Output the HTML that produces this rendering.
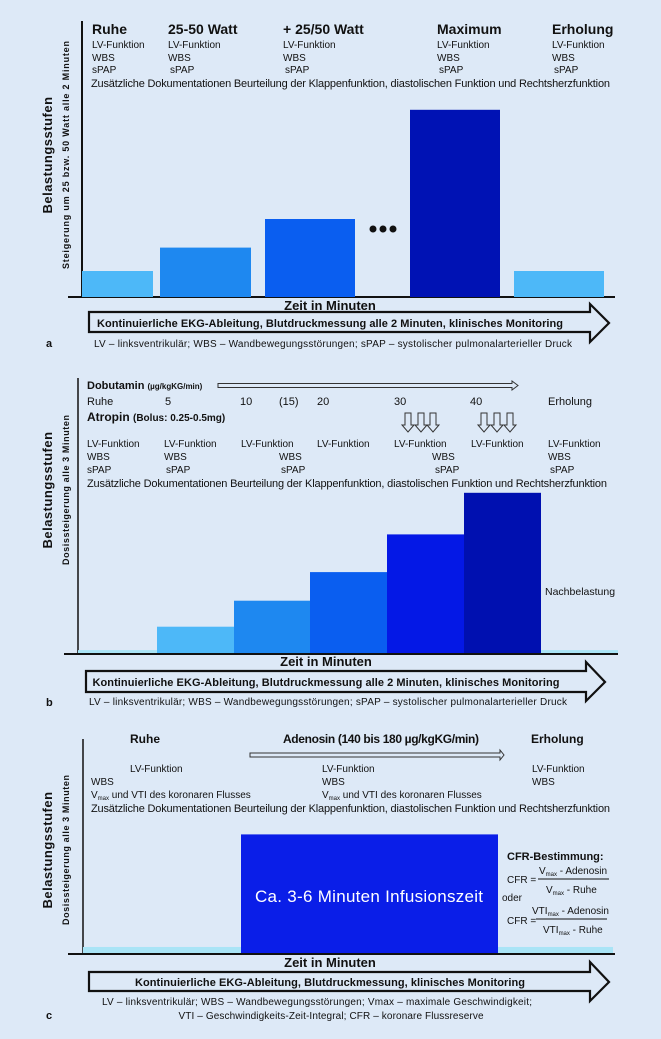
<!DOCTYPE html>
<html><head><meta charset="utf-8"><style>
html,body{margin:0;padding:0;background:#dde9f7;}
svg{display:block;}
text{font-family:"Liberation Sans Narrow","Liberation Sans",sans-serif;fill:#111;}
.h{font-weight:bold;font-size:14px;}
.s{font-size:10px;}
.b{font-weight:bold;}
</style></head><body>
<svg id="fig" width="661" height="1039" viewBox="0 0 661 1039" xmlns="http://www.w3.org/2000/svg">
<rect width="661" height="1039" fill="#dde9f7"/>

<!-- PANEL A -->
<g>
<line x1="82" y1="21" x2="82" y2="297" stroke="#111" stroke-width="2"/>
<line x1="68" y1="297" x2="615" y2="297" stroke="#111" stroke-width="2"/>
<g id="barsA"></g>
<text x="52" y="155" class="b" font-size="13" text-anchor="middle" transform="rotate(-90 52 155)" letter-spacing="0.5">Belastungsstufen</text>
<text x="69" y="155" class="b" font-size="9" text-anchor="middle" transform="rotate(-90 69 155)" textLength="228">Steigerung um 25 bzw. 50 Watt alle 2 Minuten</text>
<text x="92" y="34" class="h">Ruhe</text>
<text x="168" y="34" class="h">25-50 Watt</text>
<text x="283" y="34" class="h">+ 25/50 Watt</text>
<text x="437" y="34" class="h">Maximum</text>
<text x="552" y="34" class="h">Erholung</text>
<g class="s">
<text x="92" y="48">LV-Funktion</text><text x="168" y="48">LV-Funktion</text><text x="283" y="48">LV-Funktion</text><text x="437" y="48">LV-Funktion</text><text x="552" y="48">LV-Funktion</text>
<text x="92" y="61">WBS</text><text x="168" y="61">WBS</text><text x="283" y="61">WBS</text><text x="437" y="61">WBS</text><text x="552" y="61">WBS</text>
<text x="92" y="73">sPAP</text><text x="170" y="73">sPAP</text><text x="285" y="73">sPAP</text><text x="439" y="73">sPAP</text><text x="554" y="73">sPAP</text>
</g>
<text x="91" y="87" font-size="11" textLength="519">Zusätzliche Dokumentationen Beurteilung der Klappenfunktion, diastolischen Funktion und Rechtsherzfunktion</text>
<circle cx="373" cy="229" r="3.5" fill="#111"/><circle cx="383" cy="229" r="3.5" fill="#111"/><circle cx="393" cy="229" r="3.5" fill="#111"/>
<text x="330" y="310" class="b" font-size="13" text-anchor="middle">Zeit in Minuten</text>
<polygon points="89,312 590,312 590,304 609,323 590,342 590,332 89,332" fill="none" stroke="#111" stroke-width="2.2"/>
<text x="330" y="327" class="b" font-size="11" text-anchor="middle" textLength="466">Kontinuierliche EKG-Ableitung, Blutdruckmessung alle 2 Minuten, klinisches Monitoring</text>
<text x="46" y="347" class="b" font-size="11">a</text>
<text x="333" y="347" font-size="10" text-anchor="middle" textLength="478">LV – linksventrikulär; WBS – Wandbewegungsstörungen; sPAP – systolischer pulmonalarterieller Druck</text>
</g>

<!-- PANEL B -->
<g>
<line x1="78" y1="378" x2="78" y2="654" stroke="#111" stroke-width="1.5"/>
<g id="barsB"></g>
<line x1="64" y1="654" x2="618" y2="654" stroke="#111" stroke-width="2"/>
<text x="52" y="490" class="b" font-size="13" text-anchor="middle" transform="rotate(-90 52 490)" letter-spacing="0.5">Belastungsstufen</text>
<text x="69" y="490" class="b" font-size="9" text-anchor="middle" transform="rotate(-90 69 490)" textLength="150">Dosissteigerung alle 3 Minuten</text>
<text x="87" y="389" class="b" font-size="11">Dobutamin <tspan font-size="8">(µg/kgKG/min)</tspan></text>
<polygon points="218,383.5 512,383.5 512,381 518,385.5 512,390 512,387.5 218,387.5" fill="none" stroke="#333" stroke-width="1"/>
<g font-size="11">
<text x="87" y="405">Ruhe</text><text x="165" y="405">5</text><text x="240" y="405">10</text><text x="279" y="405">(15)</text><text x="317" y="405">20</text><text x="394" y="405">30</text><text x="470" y="405">40</text><text x="548" y="405">Erholung</text>
</g>
<text x="87" y="421" class="b" font-size="12">Atropin <tspan font-size="10">(Bolus: 0.25-0.5mg)</tspan></text>
<g fill="none" stroke="#333" stroke-width="1">
<path id="da" d="M405,413 h6 v12 h3 l-6,7 l-6,-7 h3 z"/>
<path d="M418,413 h6 v12 h3 l-6,7 l-6,-7 h3 z"/><path d="M430,413 h6 v12 h3 l-6,7 l-6,-7 h3 z"/>
<path d="M481,413 h6 v12 h3 l-6,7 l-6,-7 h3 z"/><path d="M494,413 h6 v12 h3 l-6,7 l-6,-7 h3 z"/><path d="M507,413 h6 v12 h3 l-6,7 l-6,-7 h3 z"/>
</g>
<g class="s">
<text x="87" y="447">LV-Funktion</text><text x="164" y="447">LV-Funktion</text><text x="241" y="447">LV-Funktion</text><text x="317" y="447">LV-Funktion</text><text x="394" y="447">LV-Funktion</text><text x="471" y="447">LV-Funktion</text><text x="548" y="447">LV-Funktion</text>
<text x="87" y="460">WBS</text><text x="164" y="460">WBS</text><text x="279" y="460">WBS</text><text x="432" y="460">WBS</text><text x="548" y="460">WBS</text>
<text x="87" y="473">sPAP</text><text x="166" y="473">sPAP</text><text x="281" y="473">sPAP</text><text x="435" y="473">sPAP</text><text x="550" y="473">sPAP</text>
</g>
<text x="87" y="487" font-size="11" textLength="520">Zusätzliche Dokumentationen Beurteilung der Klappenfunktion, diastolischen Funktion und Rechtsherzfunktion</text>
<text x="545" y="595" font-size="10.5">Nachbelastung</text>
<text x="326" y="666" class="b" font-size="13" text-anchor="middle">Zeit in Minuten</text>
<polygon points="86,671 586,671 586,662 605,682 586,701 586,692 86,692" fill="none" stroke="#111" stroke-width="2.2"/>
<text x="326" y="686" class="b" font-size="11" text-anchor="middle" textLength="467">Kontinuierliche EKG-Ableitung, Blutdruckmessung alle 2 Minuten, klinisches Monitoring</text>
<text x="46" y="706" class="b" font-size="11">b</text>
<text x="328" y="705" font-size="10" text-anchor="middle" textLength="478">LV – linksventrikulär; WBS – Wandbewegungsstörungen; sPAP – systolischer pulmonalarterieller Druck</text>
</g>

<!-- PANEL C -->
<g>
<line x1="83" y1="739" x2="83" y2="954" stroke="#111" stroke-width="1.5"/>
<g id="barsC"></g>
<line x1="68" y1="954" x2="615" y2="954" stroke="#111" stroke-width="2"/>
<text x="52" y="850" class="b" font-size="13" text-anchor="middle" transform="rotate(-90 52 850)" letter-spacing="0.5">Belastungsstufen</text>
<text x="69" y="850" class="b" font-size="9" text-anchor="middle" transform="rotate(-90 69 850)" textLength="150">Dosissteigerung alle 3 Minuten</text>
<text x="130" y="743" class="b" font-size="12">Ruhe</text>
<text x="283" y="743" class="b" font-size="12" textLength="196">Adenosin (140 bis 180 µg/kgKG/min)</text>
<text x="531" y="743" class="b" font-size="12">Erholung</text>
<polygon points="250,753 500,753 500,750 504,755 500,760 500,757 250,757" fill="none" stroke="#333" stroke-width="1"/>
<g class="s">
<text x="130" y="772">LV-Funktion</text><text x="322" y="772">LV-Funktion</text><text x="532" y="772">LV-Funktion</text>
<text x="91" y="785">WBS</text><text x="322" y="785">WBS</text><text x="532" y="785">WBS</text>
<text x="91" y="798">V<tspan font-size="6" dy="2">max</tspan><tspan dy="-2"> und VTI des koronaren Flusses</tspan></text>
<text x="322" y="798">V<tspan font-size="6" dy="2">max</tspan><tspan dy="-2"> und VTI des koronaren Flusses</tspan></text>
</g>
<text x="91" y="812" font-size="11" textLength="519">Zusätzliche Dokumentationen Beurteilung der Klappenfunktion, diastolischen Funktion und Rechtsherzfunktion</text>
<text x="369" y="902" font-size="17" fill="#fff" text-anchor="middle" style="fill:#fff" textLength="228">Ca. 3-6 Minuten Infusionszeit</text>
<text x="507" y="860" class="b" font-size="11">CFR-Bestimmung:</text>
<g font-size="10">
<text x="539" y="874">V<tspan font-size="6" dy="2">max</tspan><tspan dy="-2"> - Adenosin</tspan></text>
<line x1="538" y1="879" x2="609" y2="879" stroke="#111"/>
<text x="507" y="883">CFR =</text>
<text x="546" y="893">V<tspan font-size="6" dy="2">max</tspan><tspan dy="-2"> - Ruhe</tspan></text>
<text x="502" y="957" dy="-56">oder</text>
<text x="532" y="914">VTI<tspan font-size="6" dy="2">max</tspan><tspan dy="-2"> - Adenosin</tspan></text>
<line x1="536" y1="919" x2="607" y2="919" stroke="#111"/>
<text x="507" y="924">CFR =</text>
<text x="543" y="933">VTI<tspan font-size="6" dy="2">max</tspan><tspan dy="-2"> - Ruhe</tspan></text>
</g>
<text x="330" y="967" class="b" font-size="13" text-anchor="middle">Zeit in Minuten</text>
<polygon points="89,972 590,972 590,962 609,982 590,1001 590,991 89,991" fill="none" stroke="#111" stroke-width="2.2"/>
<text x="330" y="986" class="b" font-size="11" text-anchor="middle" textLength="390">Kontinuierliche EKG-Ableitung, Blutdruckmessung, klinisches Monitoring</text>
<text x="46" y="1019" class="b" font-size="11">c</text>
<text x="317" y="1005" font-size="10" text-anchor="middle" textLength="430">LV – linksventrikulär; WBS – Wandbewegungsstörungen; Vmax – maximale Geschwindigkeit;</text>
<text x="331" y="1019" font-size="10" text-anchor="middle" textLength="305">VTI – Geschwindigkeits-Zeit-Integral; CFR – koronare Flussreserve</text>
</g>
</svg>
<script>
// Panel a: load stages (relative units)
const catsA = ["Ruhe","25-50 Watt","+25/50 Watt","Maximum","Erholung"];
const valsA = [1, 1.9, 3, 7.2, 1];
// Panel b: dobutamine steps
const catsB = ["Ruhe","5","10","20","30","40","Erholung"];
const valsB = [0.15, 1.05, 2.05, 3.15, 4.6, 6.2, 0.15];
// Panel c: adenosine
const catsC = ["Ruhe","Adenosin","Erholung"];
const valsC = [0.27, 4.6, 0.27];

const NS = "http://www.w3.org/2000/svg";
function yA(v){ return 297 - v*26; }
function yB(v){ return 654 - v*26; }
function yC(v){ return 954 - v*26; }
const slotsA = [[82,153],[160,251],[265,355],[410,500],[514,604]];
const colA = ["#4db8f8","#1e88f0","#0a5ef0","#0012b4","#4db8f8"];
const slotsB = [[78,157],[157,234],[234,310],[310,387],[387,464],[464,541],[541,618]];
const colB = ["#a9e4f6","#4db8f8","#1e88f0","#0a5ef0","#0418e6","#0010b0","#a9e4f6"];
const slotsC = [[83,241],[241,498],[498,613]];
const colC = ["#a9e4f6","#0a1ee8","#a9e4f6"];
function draw(gid, vals, slots, cols, yf, base, prefix){
  const g = document.getElementById(gid);
  vals.forEach((v,i)=>{
    const r = document.createElementNS(NS,"rect");
    const y = yf(v);
    r.setAttribute("x", slots[i][0]);
    r.setAttribute("width", slots[i][1]-slots[i][0]);
    r.setAttribute("y", y);
    r.setAttribute("height", base-y);
    r.setAttribute("fill", cols[i]);
    
    
    g.appendChild(r);
  });
}
draw("barsA", valsA, slotsA, colA, yA, 297, "a");
draw("barsB", valsB, slotsB, colB, yB, 654, "b");
draw("barsC", valsC, slotsC, colC, yC, 955, "c");
</script>
</body></html>
